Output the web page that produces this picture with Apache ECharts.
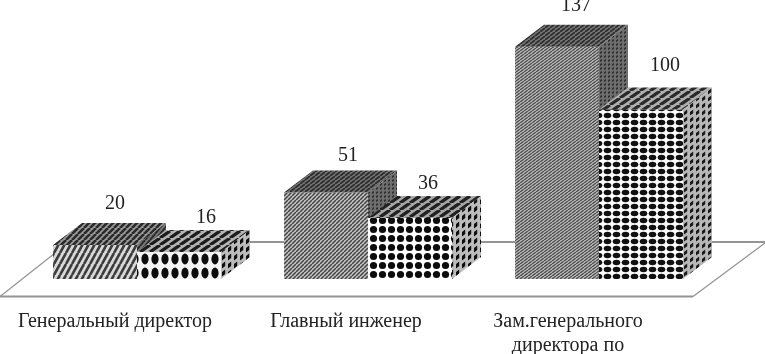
<!DOCTYPE html>
<html><head><meta charset="utf-8">
<style>html,body{margin:0;padding:0;background:#fff}#c{width:765px;height:354px}#c canvas{filter:blur(0.45px)}</style>
<script src="https://cdn.jsdelivr.net/npm/echarts@6/dist/echarts.min.js"></script>
</head><body><div id="c"></div>
<script>
const categories = ['Генеральный директор', 'Главный инженер', 'Зам.генерального\nдиректора по'];
const seriesA = [20, 51, 137];
const seriesB = [16, 36, 100];
const labelNudgeA = [[-2, -2], [0, 2], [-3, -2]];
const labelNudgeB = [[5, 5], [-4, 5], [2, -5]];

function tile(w, h, bg, draw) {
  const c = document.createElement('canvas'); c.width = w; c.height = h;
  const g = c.getContext('2d'); g.fillStyle = bg; g.fillRect(0, 0, w, h); draw(g, w, h);
  return { image: c, repeat: 'repeat' };
}
function stripes(w, h, bg, fg, lw) {
  return tile(w, h, bg, (g) => {
    g.strokeStyle = fg; g.lineWidth = lw;
    for (let i = -1; i <= 1; i++) {
      g.beginPath(); g.moveTo(i * w, h); g.lineTo(i * w + w, 0); g.stroke();
    }
  });
}
function dots(w, h, bg, fg, rx, ry) {
  return tile(w, h, bg, (g) => {
    g.fillStyle = fg; g.beginPath(); g.ellipse(w / 2, h / 2, rx, ry, 0, 0, 7); g.fill();
  });
}
function shear(w, h, bg, fg, bw, bh, rise) {
  return tile(w, h, bg, (g) => {
    g.fillStyle = fg;
    for (let i = -1; i <= 1; i++) for (let j = -1; j <= 2; j++) {
      const x = i * w, y = j * h;
      g.beginPath();
      g.moveTo(x, y); g.lineTo(x + bw, y - rise); g.lineTo(x + bw, y - rise + bh); g.lineTo(x, y + bh);
      g.closePath(); g.fill();
    }
  });
}
const patA = {
  front: [stripes(6, 11, '#d8d8d8', '#3c3c3c', 2.6), stripes(4, 4, '#c4c4c4', '#444', 1.5), stripes(4, 3, '#bbb', '#4a4a4a', 1.3)],
  top: [stripes(6, 6, '#9a9a9a', '#2a2a2a', 2.6), stripes(5, 4, '#777', '#2e2e2e', 1.8), stripes(5, 4, '#7a7a7a', '#303030', 1.8)],
  side: [stripes(5, 6, '#777', '#2a2a2a', 2), shear(4, 4, '#6e6e6e', '#303030', 2, 2, 1), shear(4, 4, '#6e6e6e', '#303030', 2, 2, 1)]
};
const patB = {
  front: [dots(10, 14, '#f4f4f4', '#0c0c0c', 3.6, 5.4), dots(9, 9, '#fff', '#0c0c0c', 3.6, 3.6), dots(9, 7, '#fff', '#111', 3.8, 2.7)],
  top: [stripes(10, 7, '#b4b4b4', '#1c1c1c', 3.2), stripes(10, 7, '#a8a8a8', '#222', 3.4), stripes(10, 7, '#b0b0b0', '#2a2a2a', 3.2)],
  side: [shear(6, 8, '#bdbdbd', '#0e0e0e', 3.2, 4.5, 2.4), shear(6, 8, '#bdbdbd', '#0e0e0e', 3.2, 4.5, 2.4), shear(6, 7, '#b8b8b8', '#181818', 3.2, 3.6, 2.4)]
};

const DX = 29, DY = 22, BAR = 84, SHIFT = 22;
function cube(side, pats, nudges) {
  return function (params, api) {
    const i = api.value(0), v = api.value(1);
    const c = api.coord([i, 0]), t = api.coord([i, v]);
    const x0 = c[0] + SHIFT - (side === 0 ? BAR : 0), x1 = x0 + BAR, yb = c[1], yt = t[1];
    const poly = (pts, fill) => ({ type: 'polygon', shape: { points: pts }, style: { fill: fill, stroke: null } });
    return { type: 'group', children: [
      poly([[x0, yb], [x1, yb], [x1, yt], [x0, yt]], pats.front[i]),
      poly([[x0, yt], [x1, yt], [x1 + DX, yt - DY], [x0 + DX, yt - DY]], pats.top[i]),
      poly([[x1, yb], [x1 + DX, yb - DY], [x1 + DX, yt - DY], [x1, yt]], pats.side[i]),
      { type: 'text', style: {
          text: String(v), x: (x0 + x1) / 2 + 22 + nudges[i][0], y: yt - DY - 17 + nudges[i][1], align: 'center', verticalAlign: 'middle',
          font: '20px "Liberation Serif"', fill: '#222' } }
    ] };
  };
}
function floor(params, api) {
  const a = api.coord([0, 0]), b = api.coord([2, 0]);
  const l = a[0] - 115, f = a[1] + 17.5, back = a[1] - 37;
  const ln = (x1, y1, x2, y2, w) => ({ type: 'line', shape: { x1, y1, x2, y2 }, style: { stroke: '#949494', fill: 'none', lineWidth: w } });
  return { type: 'group', children: [
    ln(l, f, b[0] + 116, f, 2),
    ln(l, f, l + 69, back, 1.3),
    ln(l + 69, back, 765, back, 1.8),
    ln(b[0] + 116, f, 765, back + 1, 1.3)
  ] };
}

const chart = echarts.init(document.getElementById('c'), null, { renderer: 'canvas' });
chart.setOption({
  animation: false,
  grid: { left: -0.5, width: 693, top: 41.7, height: 237.3, outerBoundsMode: 'none' },
  xAxis: { type: 'category', data: categories, axisLine: { show: false }, axisTick: { show: false },
    axisLabel: { margin: 31, lineHeight: 24, interval: 0, color: '#222', fontFamily: 'Liberation Serif', fontSize: 20,
      formatter: (v, i) => i === 2 ? '{s|' + v.replace('\n', '}\n{s|') + '}' : v,
      rich: { s: { fontFamily: 'Liberation Serif', fontSize: 20, color: '#222', lineHeight: 24, padding: [0, 18, 0, 0] } } } },
  yAxis: { type: 'value', min: 0, max: 140, show: false },
  series: [
    { type: 'custom', coordinateSystem: 'cartesian2d', clip: false, data: [[0, 0]], renderItem: floor, silent: true, z: 1 },
    { type: 'custom', name: 'A', clip: false, data: seriesA.map((v, i) => [i, v]), renderItem: cube(0, patA, labelNudgeA), z: 2 },
    { type: 'custom', name: 'B', clip: false, data: seriesB.map((v, i) => [i, v]), renderItem: cube(1, patB, labelNudgeB), z: 3 }
  ]
});
</script></body></html>
